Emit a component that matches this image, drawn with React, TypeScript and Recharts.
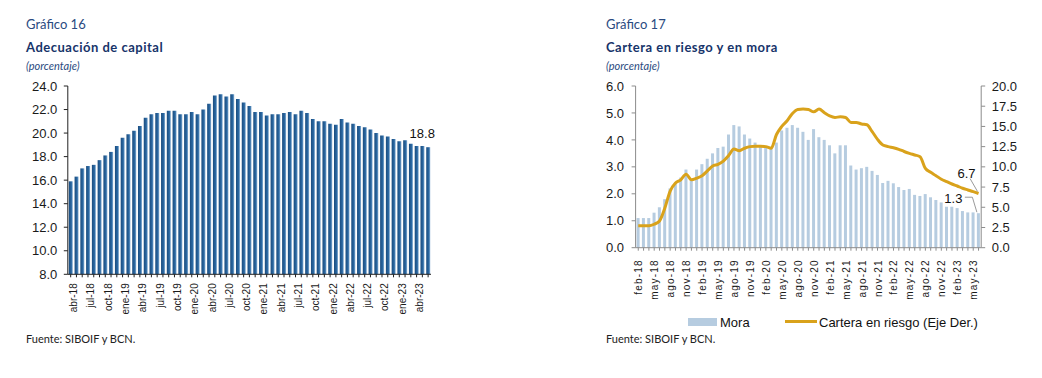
import React from "react";
import {
  BarChart,
  ComposedChart,
  Bar,
  Line,
  XAxis,
  YAxis,
  LabelList,
} from "recharts";

const MONTHS = ["ene", "feb", "mar", "abr", "may", "jun", "jul", "ago", "sep", "oct", "nov", "dic"];

// month tick labels, e.g. "abr-18"
function monthRange(startYear: number, startMonth: number, count: number) {
  const out: string[] = [];
  for (let i = 0; i < count; i++) {
    const m = (startMonth + i) % 12;
    const y = startYear + Math.floor((startMonth + i) / 12);
    out.push(`${MONTHS[m]}-${String(y).slice(2)}`);
  }
  return out;
}

// Gráfico 16: abr-18 .. jun-23
const capitalMonths = monthRange(2018, 3, 63);
const capitalValues = [
  15.9, 16.3, 17.0, 17.2, 17.3, 17.7, 18.1, 18.4, 18.9, 19.6,
  19.9, 20.2, 20.6, 21.3, 21.6, 21.7, 21.7, 21.9, 21.9, 21.6,
  21.6, 21.8, 21.6, 22.0, 22.5, 23.2, 23.3, 23.1, 23.3, 22.9,
  22.6, 22.3, 21.8, 21.8, 21.5, 21.6, 21.6, 21.7, 21.8, 21.6,
  21.9, 21.7, 21.2, 21.0, 21.0, 20.8, 20.7, 21.2, 20.9, 20.8,
  20.6, 20.5, 20.3, 20.0, 19.8, 19.7, 19.5, 19.3, 19.4, 19.1,
  18.9, 18.9, 18.8,
];
const capitalTicks = [8, 10, 12, 14, 16, 18, 20, 22, 24];

// Gráfico 17: feb-18 .. jun-23
const riskMonths = monthRange(2018, 1, 65);
const moraValues = [
  1.1, 1.1, 1.1, 1.3, 1.5, 1.8, 2.2, 2.4, 2.6, 2.9,
  2.5, 2.9, 3.1, 3.3, 3.5, 3.7, 3.75, 4.2, 4.55, 4.5,
  4.2, 4.05, 3.9, 3.8, 3.75, 3.7, 3.9, 4.35, 4.45, 4.55,
  4.45, 4.3, 4.0, 4.4, 4.1, 4.0, 3.8, 3.5, 3.8, 3.8,
  3.05, 2.9, 2.95, 3.0, 2.85, 2.7, 2.4, 2.48, 2.39, 2.25,
  2.14, 2.18, 1.96, 1.92, 1.99, 1.87, 1.77, 1.68, 1.52, 1.52,
  1.47, 1.36, 1.31, 1.31, 1.28,
];
const carteraValues = [
  2.7, 2.7, 2.7, 2.9, 3.3, 4.9, 7.0, 8.0, 8.4, 9.1,
  8.4, 8.6, 8.9, 9.5, 10.1, 10.3, 10.7, 11.4, 12.2, 12.0,
  12.3, 12.5, 12.55, 12.55, 12.5, 12.3, 14.0, 15.0, 15.7, 16.6,
  17.1, 17.15, 17.1, 16.8, 17.15, 16.7, 16.3, 16.1, 16.2, 16.1,
  15.5, 15.5, 15.3, 15.2, 14.35, 13.4, 12.7, 12.5, 12.37, 12.17,
  11.9, 11.67, 11.47, 11.26, 9.8, 9.32, 8.91, 8.46, 8.17, 7.88,
  7.63, 7.35, 7.14, 6.93, 6.7,
];
const moraTicks = [0, 1, 2, 3, 4, 5, 6];
const carteraTicks = [0, 2.5, 5, 7.5, 10, 12.5, 15, 17.5, 20];

const capitalData = capitalMonths.map((m, i) => ({ month: m, value: capitalValues[i] }));
const riskData = riskMonths.map((m, i) => ({
  month: m,
  mora: moraValues[i],
  cartera: carteraValues[i],
}));

const AXIS_FONT = "'Liberation Sans', Arial, sans-serif";
const TITLE_FONT = "Lato, 'Open Sans', sans-serif";
const GOLD = "#D9A21B";
const MORA_BLUE = "#B6CCE0";

const monthTick = (dx: number, dy: number, spacing: number) => (props: any) => {
  const { x, y, payload, index } = props;
  const i = index ?? payload?.index ?? 0;
  if (i % 3 !== 0) return null;
  return (
    <text
      transform={`translate(${x + dx},${y + dy}) rotate(-90)`}
      textAnchor="end"
      fontSize={10}
      fontFamily={AXIS_FONT}
      fill="#1a1a1a"
      letterSpacing={spacing}
    >
      {payload.value}
    </text>
  );
};

const capitalLabel = (props: any) => {
  const { x, y, width, index, value } = props;
  if (index !== capitalValues.length - 1) return null;
  return (
    <text x={x + width / 2 - 6} y={y - 9} textAnchor="middle" fontSize={13} fontFamily={AXIS_FONT} fill="#111">
      {Number(value).toFixed(1)}
    </text>
  );
};

const moraLabel = (props: any) => {
  const { x, y, width, index, value } = props;
  if (index !== moraValues.length - 1) return null;
  const cx = x + width / 2;
  return (
    <g>
      <polyline
        points={`${cx - 13.5},${y - 16} ${cx - 6},${y - 16} ${cx - 1.5},${y - 1}`}
        fill="none"
        stroke="#9a9a9a"
        strokeWidth={1}
      />
      <text x={cx - 25} y={y - 10} textAnchor="middle" fontSize={13} fontFamily={AXIS_FONT} fill="#111">
        {Number(value).toFixed(1)}
      </text>
    </g>
  );
};

const carteraLabel = (props: any) => {
  const { x, y, index, value } = props;
  if (index !== carteraValues.length - 1) return null;
  return (
    <g>
      <line x1={x - 8.5} y1={y - 15} x2={x - 1} y2={y - 2} stroke="#9a9a9a" strokeWidth={1} />
      <text x={x - 12} y={y - 16} textAnchor="middle" fontSize={13} fontFamily={AXIS_FONT} fill="#111">
        {Number(value).toFixed(1)}
      </text>
    </g>
  );
};

function CapitalChart() {
  return (
    <BarChart
      width={440}
      height={330}
      data={capitalData}
      margin={{ top: 86, right: 9, bottom: 0, left: 0 }}
      barCategoryGap={0}
    >
      <defs>
        <linearGradient id="capGrad" x1="0" y1="0" x2="1" y2="0">
          <stop offset="0%" stopColor="#1B4C7E" />
          <stop offset="65%" stopColor="#2B69A3" />
          <stop offset="100%" stopColor="#93B6D7" />
        </linearGradient>
      </defs>
      <XAxis
        dataKey="month"
        interval={0}
        height={55.7}
        tickSize={3}
        stroke="#222"
        tick={monthTick(6.5, 4, 0)}
      />
      <YAxis
        width={67.8}
        domain={[8, 24]}
        ticks={capitalTicks}
        interval={0}
        tickSize={4}
        tickMargin={6.5}
        stroke="#222"
        tickFormatter={(v: number) => v.toFixed(1)}
        tick={{ fontSize: 13, fontFamily: AXIS_FONT, fill: "#1a1a1a" }}
      />
      <Bar dataKey="value" fill="url(#capGrad)" barSize={4} isAnimationActive={false}>
        <LabelList dataKey="value" content={capitalLabel} />
      </Bar>
    </BarChart>
  );
}

function RiskChart() {
  return (
    <ComposedChart
      width={480}
      height={305}
      data={riskData}
      margin={{ top: 86, right: 0, bottom: 0, left: 0 }}
      barCategoryGap={0}
    >
      <XAxis
        dataKey="month"
        interval={0}
        height={57.3}
        tickSize={3}
        stroke="#8c8c8c"
        tick={monthTick(4, 6.5, 1.2)}
      />
      <YAxis
        yAxisId="left"
        width={75.6}
        domain={[0, 6]}
        ticks={moraTicks}
        interval={0}
        tickSize={4}
        tickMargin={7.6}
        stroke="#8c8c8c"
        tickFormatter={(v: number) => v.toFixed(1)}
        tick={{ fontSize: 13, fontFamily: AXIS_FONT, fill: "#1a1a1a" }}
      />
      <YAxis
        yAxisId="right"
        orientation="right"
        width={58.8}
        domain={[0, 20]}
        ticks={carteraTicks}
        interval={0}
        tickSize={4}
        tickMargin={6.5}
        stroke="#8c8c8c"
        tickFormatter={(v: number) => v.toFixed(1)}
        tick={{ fontSize: 13, fontFamily: AXIS_FONT, fill: "#1a1a1a", textAnchor: "start" }}
      />
      <Bar yAxisId="left" dataKey="mora" fill={MORA_BLUE} barSize={3} isAnimationActive={false}>
        <LabelList dataKey="mora" content={moraLabel} />
      </Bar>
      <Line
        yAxisId="right"
        dataKey="cartera"
        type="monotone"
        stroke={GOLD}
        strokeWidth={3}
        dot={false}
        isAnimationActive={false}
      >
        <LabelList dataKey="cartera" content={carteraLabel} />
      </Line>
    </ComposedChart>
  );
}

function Texts() {
  return (
    <svg width={1042} height={378} style={{ position: "absolute", left: 0, top: 0 }}>
      <g fontFamily={TITLE_FONT}>
        <text x={26} y={29} fontSize={13} fill="#2A4A80">Gráfico 16</text>
        <text x={26} y={51.5} fontSize={13} fontWeight={700} fill="#17346A" letterSpacing={0.5}>
          Adecuación de capital
        </text>
        <text x={26} y={70} fontSize={11} fontStyle="italic" fill="#2A4A80">(porcentaje)</text>
        <text x={26} y={343} fontSize={11} fill="#222">Fuente: SIBOIF y BCN.</text>

        <text x={606} y={29} fontSize={13} fill="#2A4A80">Gráfico 17</text>
        <text x={606} y={51.5} fontSize={13} fontWeight={700} fill="#17346A" letterSpacing={0.5}>
          Cartera en riesgo y en mora
        </text>
        <text x={606} y={70} fontSize={11} fontStyle="italic" fill="#2A4A80">(porcentaje)</text>
        <text x={606} y={343} fontSize={11} fill="#222">Fuente: SIBOIF y BCN.</text>
      </g>
      <g fontFamily={AXIS_FONT} fontSize={13} fill="#111">
        <rect x={688} y={318} width={29} height={8} fill={MORA_BLUE} />
        <text x={720} y={327}>Mora</text>
        <rect x={785} y={320} width={32} height={3} fill={GOLD} />
        <text x={819} y={327}>Cartera en riesgo (Eje Der.)</text>
      </g>
    </svg>
  );
}

export default function App() {
  return (
    <div style={{ position: "absolute", left: 0, top: 0, width: 1042, height: 378, background: "#fff" }}>
      <Texts />
      <div style={{ position: "absolute", left: 0, top: 0 }}>
        <CapitalChart />
      </div>
      <div style={{ position: "absolute", left: 560, top: 0 }}>
        <RiskChart />
      </div>
    </div>
  );
}
